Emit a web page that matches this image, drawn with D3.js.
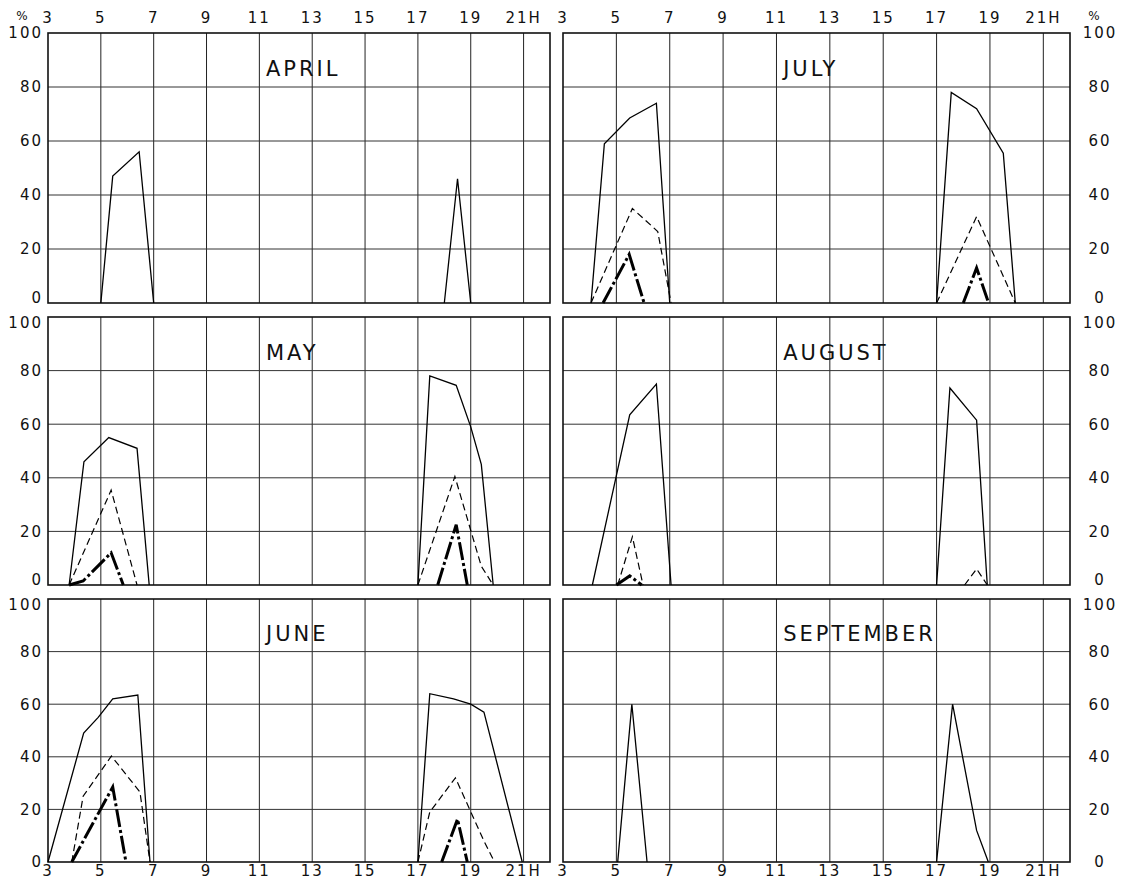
<!DOCTYPE html>
<html>
<head>
<meta charset="utf-8">
<script src="https://cdn.jsdelivr.net/npm/d3@7"></script>
<style>
  body { margin: 0; background: #fff; }
  text { font-family: "DejaVu Sans", sans-serif; fill: #111; }
</style>
</head>
<body>
<svg id="chart" width="1122" height="883"></svg>
<script>
const hourTicks = [3, 5, 7, 9, 11, 13, 15, 17, 19, 21];
const percentTicks = [0, 20, 40, 60, 80, 100];
const months = ["APRIL", "JULY", "MAY", "AUGUST", "JUNE", "SEPTEMBER"];

// [hour, percent]; null splits the morning and evening parts
const aprilThin = [[5,0],[5.45,47],[6.45,56],[7,0], null, [18,0],[18.5,46],[19,0]];
const aprilDashed = [];
const aprilThick = [];

const julyThin = [[4.05,0],[4.55,59],[5.5,68.5],[6.5,74],[7,0], null, [17,0],[17.55,78],[18.5,72],[19.5,55.5],[19.95,0]];
const julyDashed = [[4.05,0],[5.6,35],[6.55,26.5],[7.05,0], null, [17,0],[18.5,32],[19.95,0]];
const julyThick = [[4.5,0],[5.48,18],[6.04,0], null, [18,0],[18.5,13],[18.95,0]];

const mayThin = [[3.8,0],[4.36,46],[5.3,55],[6.37,51],[6.83,0], null, [17,0],[17.45,78],[18.45,74.5],[19,59],[19.4,45],[19.85,0]];
const mayDashed = [[3.8,0],[5.39,35.4],[6.37,0], null, [17,0],[18.4,40.5],[19.4,7],[19.85,0]];
const mayThick = [[3.8,0],[4.33,1.5],[5.39,12],[5.85,0], null, [17.75,0],[18.45,22.5],[18.87,0]];

const augustThin = [[4.1,0],[5.5,63.5],[6.5,75],[7.05,0], null, [17,0],[17.5,73.5],[18.5,61.5],[18.9,0]];
const augustDashed = [[5.05,0],[5.6,18],[6,0], null, [18.05,0],[18.5,6],[18.9,0]];
const augustThick = [[5,0],[5.5,3.4],[5.95,0]];

const juneThin = [[3,0],[4.35,49],[4.9,55],[5.45,62],[6.4,63.5],[6.86,0], null, [17,0],[17.45,64],[18.35,62],[19,60],[19.5,57],[20.95,0]];
const juneDashed = [[3.9,0],[4.33,25],[5.4,40.3],[6.48,26.6],[6.86,0], null, [17,0],[17.45,19],[18.42,32],[19.5,8],[19.9,0]];
const juneThick = [[3.9,0],[5.45,28.5],[5.95,0], null, [17.9,0],[18.5,16.3],[18.87,0]];

const septemberThin = [[5.05,0],[5.58,60],[6.15,0], null, [17,0],[17.6,60],[18.5,12],[18.94,0]];
const septemberDashed = [];
const septemberThick = [];

const panelSeries = [
  [aprilThin, aprilDashed, aprilThick],
  [julyThin, julyDashed, julyThick],
  [mayThin, mayDashed, mayThick],
  [augustThin, augustDashed, augustThick],
  [juneThin, juneDashed, juneThick],
  [septemberThin, septemberDashed, septemberThick]
];

const lineStyles = [
  { width: 1.3, dash: null },
  { width: 1.2, dash: "7 4" },
  { width: 3, dash: "18 3 3 3" }
];

const columns = [[48, 550], [563, 1070]];
const rows = [[33, 303], [317, 585], [599, 862]];

const svg = d3.select("#chart");

months.forEach((month, i) => {
  const col = i % 2;
  const row = Math.floor(i / 2);
  const [left, right] = columns[col];
  const [top, bottom] = rows[row];

  const x = d3.scaleLinear().domain([3, 22]).range([left, right]);
  const y = d3.scaleLinear().domain([0, 100]).range([bottom, top]);

  const panel = svg.append("g").attr("class", "panel");

  // grid
  panel.selectAll(".vgrid")
    .data(hourTicks.filter(h => h > 3))
    .join("line")
      .attr("x1", d => x(d)).attr("x2", d => x(d))
      .attr("y1", top).attr("y2", bottom)
      .attr("stroke", "#222")
      .attr("stroke-width", 1);
  panel.selectAll(".hgrid")
    .data(percentTicks.filter(p => p > 0 && p < 100))
    .join("line")
      .attr("x1", left).attr("x2", right)
      .attr("y1", d => y(d)).attr("y2", d => y(d))
      .attr("stroke", "#333")
      .attr("stroke-width", 1);

  panel.append("rect")
    .attr("x", left).attr("y", top)
    .attr("width", right - left).attr("height", bottom - top)
    .attr("fill", "none")
    .attr("stroke", "#111")
    .attr("stroke-width", 1.6);

  // month name
  panel.append("text")
    .attr("x", x(11.25))
    .attr("y", y(84))
    .style("font-size", "21px")
    .style("letter-spacing", "3px")
    .text(month);

  // series
  const line = d3.line()
    .defined(d => d !== null)
    .x(d => x(d[0]))
    .y(d => y(d[1]));

  panelSeries[i].forEach((values, k) => {
    if (values.length === 0) return;
    panel.append("path")
      .attr("d", line(values))
      .attr("fill", "none")
      .attr("stroke", "#000")
      .attr("stroke-width", lineStyles[k].width)
      .attr("stroke-dasharray", lineStyles[k].dash)
      .attr("stroke-linejoin", "miter");
  });

  // hour labels at the top and bottom
  if (row === 0 || row === 2) {
    const labelY = row === 0 ? 23 : 876;
    panel.selectAll(".hour")
      .data(hourTicks)
      .join("text")
        .attr("x", d => x(d))
        .attr("y", labelY)
        .attr("text-anchor", "middle")
        .style("font-size", "15px")
        .style("letter-spacing", "2px")
        .text(d => d === 21 ? "21H" : d);
  }

  // percent labels; the 0 and 100 labels are nudged apart where rows meet
  const nudge = d => {
    if (d === 0 && row < 2) return -5;
    if (d === 100 && row > 0) return 6;
    return 0;
  };
  panel.selectAll(".pct")
    .data(percentTicks)
    .join("text")
      .attr("x", col === 0 ? 43 : 1100)
      .attr("y", d => y(d) + nudge(d))
      .attr("dy", "0.36em")
      .attr("text-anchor", col === 0 ? "end" : "middle")
      .style("font-size", "15px")
      .style("letter-spacing", "2px")
      .text(d => d);
});

svg.append("text")
  .attr("x", 22).attr("y", 20)
  .attr("text-anchor", "middle")
  .style("font-size", "12px")
  .text("%");
svg.append("text")
  .attr("x", 1094).attr("y", 20)
  .attr("text-anchor", "middle")
  .style("font-size", "12px")
  .text("%");
</script>
</body>
</html>
